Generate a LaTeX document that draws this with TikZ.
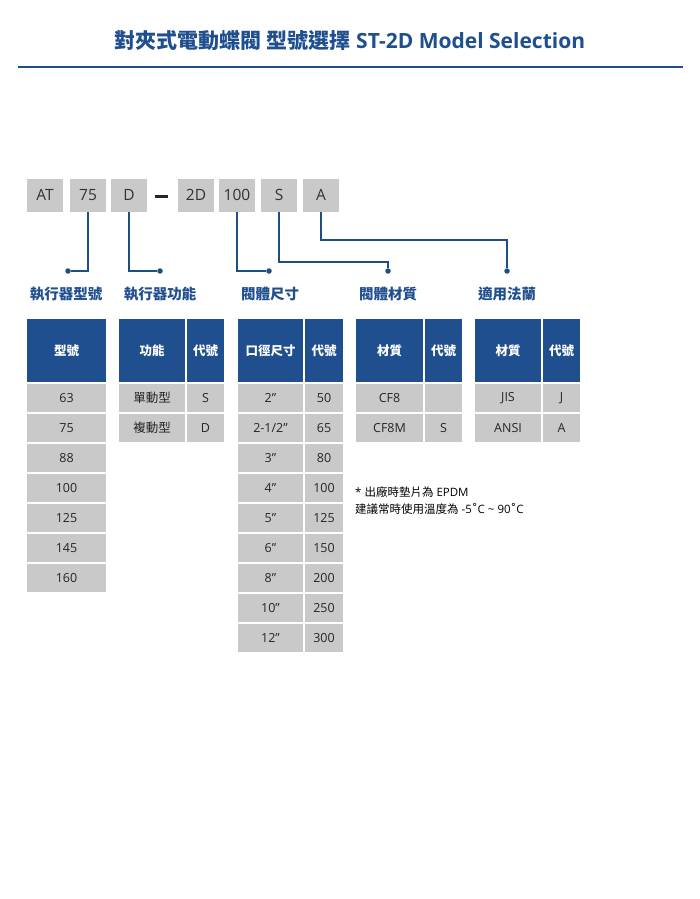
\documentclass[tikz,border=0pt]{standalone}
\usepackage{fontspec}
\setmainfont{Open Sans}
\newfontfamily\cjk{Noto Sans CJK TC}
\newfontfamily\cjkm{Noto Sans CJK TC Medium}
\newfontfamily\dvs{DejaVu Sans}
\definecolor{hb}{HTML}{1F4F8E}
\definecolor{gb}{HTML}{C9C9C9}
\definecolor{lb}{HTML}{1D4F82}
\tikzset{
 hcell/.style={fill=hb,draw=white,line width=1.2pt},
 gcell/.style={fill=gb,draw=white,line width=1.2pt},
 tbox/.style={fill=gb,minimum width=36pt,minimum height=33pt,inner sep=0pt,font=\fontsize{15.5}{17}\selectfont,text=black!80},
 lab/.style={font=\cjk\bfseries\fontsize{14.5}{16}\selectfont,text=hb},
 conn/.style={draw=lb,line width=1.8pt},
 dot/.style={circle,fill=lb,inner sep=0pt,minimum size=5.5pt}
}
\newcommand{\hc}[5]{\path[hcell] (#1,#2) rectangle (#3,#4); \node[text=white,font=\cjk\bfseries\fontsize{12.5}{14}\selectfont] at ({(#1+#3)/2},{(#2+#4)/2}) {#5};}
\newcommand{\gc}[5]{\path[gcell] (#1,#2) rectangle (#3,#4); \node[text=black!85,font=\fontsize{12.5}{14}\selectfont] at ({(#1+#3)/2},{(#2+#4)/2}) {#5};}
\begin{document}
\begin{tikzpicture}[x=1pt,y=-1pt]
\useasboundingbox[fill=white] (0,0) rectangle (700,899);
\node[font=\fontsize{21}{24}\selectfont,text=hb] (title) at (350,41) {{\cjk\bfseries 對夾式電動蝶閥 型號選擇} \textbf{ST-2D Model Selection}};
\draw[hb,line width=2pt] (18,67) -- (683,67);
% code boxes
\node[tbox] (b1) at (45,195) {AT};
\node[tbox] (b2) at (88,195) {75};
\node[tbox] (b3) at (129,195) {D};
\draw[black!85,line width=3pt] (155,196) -- (168,196);
\node[tbox] (b4) at (196,195) {2D};
\node[tbox] (b5) at (237,195) {100};
\node[tbox] (b6) at (279,195) {S};
\node[tbox] (b7) at (321,195) {A};
% dots
\node[dot] (d1) at (68,271) {};
\node[dot] (d2) at (160,271) {};
\node[dot] (d3) at (269,271) {};
\node[dot] (d4) at (388,271) {};
\node[dot] (d5) at (507,271) {};
\draw[conn] (b2.south) |- (d1);
\draw[conn] (b3.south) |- (d2);
\draw[conn] (b5.south) |- (d3);
\draw[conn] (b6.south) -- (279,262) -| (d4);
\draw[conn] (b7.south) -- (321,240) -| (d5);
\node[lab] (l1) at (66,294) {執行器型號};
\node[lab] (l2) at (160,294) {執行器功能};
\node[lab] (l3) at (270,294) {閥體尺寸};
\node[lab] (l4) at (388,294) {閥體材質};
\node[lab] (l5) at (507,294) {適用法蘭};
% table 1
\hc{26}{318}{107}{383}{型號}
\foreach \v [count=\i from 0] in {63,75,88,100,125,145,160}
  {\gc{26}{383+30*\i}{107}{413+30*\i}{\v}}
% table 2
\hc{118}{318}{186}{383}{功能}
\hc{186}{318}{225}{383}{代號}
\gc{118}{383}{186}{413}{\cjk 單動型}\gc{186}{383}{225}{413}{S}
\gc{118}{413}{186}{443}{\cjk 複動型}\gc{186}{413}{225}{443}{D}
% table 3
\hc{237}{318}{304}{383}{口徑尺寸}
\hc{304}{318}{344}{383}{代號}
\foreach \a/\b [count=\i from 0] in {2/50,{2-1/2}/65,3/80,4/100,5/125,6/150,8/200,10/250,12/300}
  {\gc{237}{383+30*\i}{304}{413+30*\i}{\a\symbol{34}}\gc{304}{383+30*\i}{344}{413+30*\i}{\b}}
% table 4
\hc{355}{318}{424}{383}{材質}
\hc{424}{318}{463}{383}{代號}
\gc{355}{383}{424}{413}{CF8}\gc{424}{383}{463}{413}{}
\gc{355}{413}{424}{443}{CF8M}\gc{424}{413}{463}{443}{S}
% table 5
\hc{474}{318}{542}{383}{材質}
\hc{542}{318}{581}{383}{代號}
\gc{474}{383}{542}{413}{JIS}\gc{542}{383}{581}{413}{J}
\gc{474}{413}{542}{443}{ANSI}\gc{542}{413}{581}{443}{A}
% note
\node[anchor=west,font=\fontsize{11.5}{17}\selectfont,align=left,inner sep=0pt] (note) at (355,501) {* {\cjk 出廠時墊片為} EPDM\\{\cjk 建議常時使用溫度為} -5{\dvs ˚}C \textasciitilde{} 90{\dvs ˚}C};
\end{tikzpicture}
\end{document}
